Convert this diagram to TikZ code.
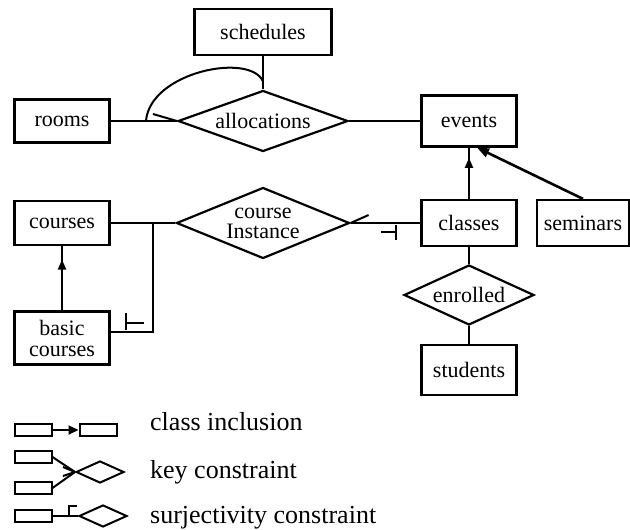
\documentclass[tikz,border=0pt]{standalone}
\usepackage{fontspec}
\setmainfont{Liberation Serif}
\usetikzlibrary{shapes.geometric,arrows.meta,decorations.markings}

\begin{document}
\begin{tikzpicture}[x=1pt,y=-1pt,
    entity/.style ={rectangle, draw, line width=2.2pt, minimum width=95pt,
      minimum height=46pt, inner sep=1pt, font=\fontsize{22}{22}\selectfont},
    relation/.style ={diamond, draw, line width=2.2pt, aspect=3, inner sep=-4pt,
      font=\fontsize{22}{22}\selectfont},
    link/.style ={line width=2pt},
    isa/.style ={link, decoration={markings,
      mark=at position #1 with {\arrow{Triangle[length=10pt,width=8pt]}}},
      postaction=decorate},
    mini/.style ={rectangle, draw, line width=2pt, minimum width=37pt,
      minimum height=12pt, inner sep=0pt},
    minirel/.style ={diamond, draw, line width=2pt, minimum width=48pt,
      minimum height=22pt, inner sep=0pt},
    legend/.style ={anchor=west, inner sep=0pt, font=\fontsize{26}{26}\selectfont}]
   \useasboundingbox (0,0) rectangle (630,530);
   % entities and relationships
   \node[entity, minimum width=137pt] (schedules) at (263,32) {schedules};
   \node[entity, minimum height=43pt] (rooms) at (62,121) {rooms};
   \node[relation, minimum width=170pt, minimum height=61pt] (allocations) at (263,121) {allocations};
   \node[entity, minimum height=51pt] (events) at (469,121) {events};
   \node[entity, minimum height=44pt] (courses) at (62,223) {courses};
   \node[relation, minimum width=173pt, minimum height=71pt, inner sep=-16pt,
     align=center, font=\fontsize{22}{20}\selectfont] (instance) at (263,223) {course\\Instance};
   \node[entity, minimum height=53pt, align=center,
     font=\fontsize{22}{21}\selectfont] (basic) at (62,338) {basic\\courses};
   \node[entity] (classes) at (469,223) {classes};
   \node[entity, minimum width=92pt] (seminars) at (583,223) {seminars};
   \node[relation, minimum width=130pt, minimum height=60pt] (enrolled) at (469,295) {enrolled};
   \node[entity, minimum height=50pt] (students) at (469,370) {students};
   \coordinate (rj) at (146,121);
   \coordinate (cj) at (153,223);
   % connectors
   \draw[link] (schedules) -- (allocations.north);
   \draw[link] (rooms) -- (allocations.west);
   \draw[link] (allocations.west) -- +(-24,-7);
   \draw[link] (rj) .. controls (150,72) and (250,52) .. ([yshift=8pt]allocations.north);
   \draw[link] (allocations) -- (events);
   \draw[link] (courses) -- (instance.west);
   \draw[link] (cj) |- ([yshift=6pt]basic.east);
   \draw[link] ([shift={(15,-25)}]basic.east) -- +(0,17) +(0,10) -- +(18,10);
   \draw[isa=0.79] (basic) -- (courses);
   \draw[isa=0.8] (classes) -- (events);
   \draw[line width=2.6pt, -{Triangle[length=12pt,width=9pt]}] (seminars.north) -- ([xshift=8pt]events.south);
   \draw[link] (classes) -- (instance.east);
   \draw[link] (instance.east) -- +(18,-8);
   \draw[link] ([shift={(-24,2)}]classes.west) -- +(0,15) +(0,7) -- +(-15,7);
   \draw[link] (classes) -- (enrolled);
   \draw[link] (enrolled) -- (students);
   % legend
   \node[mini] (incA) at (33,430) {};
   \node[mini] (incB) at (98,430) {};
   \draw[link, -{Triangle[length=10pt,width=9pt]}] (incA) -- (incB);
   \node[legend] (incT) at (150,422) {class inclusion};
   \node[mini] (keyA) at (33,457) {};
   \node[mini] (keyB) at (33,488) {};
   \node[minirel] (keyR) at (100,472) {};
   \draw[link] (keyA.east) -- (keyR.west);
   \draw[link] (keyB.east) -- (keyR.west);
   \draw[link] (keyR.west) -- +(-12,-5) (keyR.west) -- +(-12,4);
   \node[legend] (keyT) at (150,472) {key constraint};
   \node[mini] (surA) at (33,516) {};
   \node[minirel] (surR) at (103,516) {};
   \draw[link] (surA) -- (surR);
   \draw[link] ([shift={(16,0)}]surA.east) -- +(0,-10) -- +(8,-10);
   \node[legend] (surT) at (150,518) {surjectivity constraint};
 \end{tikzpicture}
\end{document}
